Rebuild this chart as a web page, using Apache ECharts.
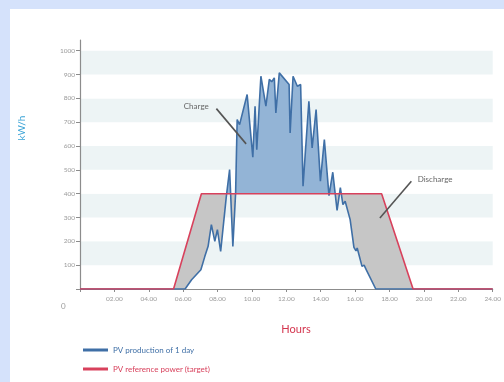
<!DOCTYPE html>
<html>
<head>
<meta charset="utf-8">
<script src="https://cdn.jsdelivr.net/npm/echarts@6/dist/echarts.min.js"></script>
<style>
  html, body { margin: 0; padding: 0; width: 504px; height: 382px; background: #d5e2fb; overflow: hidden; }
  #c { position: absolute; left: 10px; top: 9px; width: 494px; height: 373px; background: #ffffff; }
</style>
</head>
<body>
<div id="c"></div>
<script>
// ---- data (hours of day, kW/h) ----
const pvHours = [0, 6.11, 6.49, 7.03, 7.26, 7.45, 7.64, 7.84, 7.99, 8.18, 8.51, 8.70, 8.89, 9.05, 9.14, 9.28, 9.72,
  10.05, 10.18, 10.28, 10.52, 10.81, 11.01, 11.15, 11.30, 11.39, 11.59, 12.16, 12.22, 12.39, 12.64, 12.83, 12.97,
  13.31, 13.50, 13.73, 13.98, 14.21, 14.48, 14.70, 14.95, 15.14, 15.29, 15.42, 15.71, 15.93, 16.05, 16.12,
  16.40, 16.52, 16.65, 17.20, 24];
const pvValues = [0, 0, 39, 81, 137, 179, 270, 200, 249, 158, 389, 501, 179, 403, 711, 690, 816,
  553, 767, 585, 893, 767, 880, 870, 886, 739, 907, 858, 655, 893, 851, 858, 431,
  788, 592, 753, 452, 627, 392, 490, 330, 425, 354, 368, 291, 175, 160, 172,
  95, 100, 80, 0, 0];
const refHours = [0, 5.44, 7.06, 17.54, 19.37, 24];
const refValues = [0, 0, 400, 400, 0, 0];
const xTickValues = [2, 4, 6, 8, 10, 12, 14, 16, 18, 20, 22, 24];
const xTickLabels = ['02.00', '04.00', '06.00', '08.00', '10.00', '12.00', '14.00', '16.00', '18.00', '20.00', '22.00', '24.00'];
const yTickLabels = [100, 200, 300, 400, 500, 600, 700, 800, 900, 1000];
const seriesNames = ['PV production of 1 day', 'PV reference power (target)'];
const notes = [
  { text: 'Charge', at: [6.76, 766], from: [7.93, 757], to: [9.66, 609] },
  { text: 'Discharge', at: [20.65, 459], from: [19.27, 452], to: [17.44, 298] }
];

// ---- helpers for the fills between the two lines ----
function lerp(xs, ys, x) {
  for (let i = 0; i < xs.length - 1; i++) {
    if (x >= xs[i] && x <= xs[i + 1]) {
      const t = xs[i + 1] === xs[i] ? 0 : (x - xs[i]) / (xs[i + 1] - xs[i]);
      return ys[i] + t * (ys[i + 1] - ys[i]);
    }
  }
  return ys[ys.length - 1];
}
let grid = Array.from(new Set(pvHours.concat(refHours))).sort((a, b) => a - b);
const withCross = [];
for (let i = 0; i < grid.length; i++) {
  withCross.push(grid[i]);
  if (i < grid.length - 1) {
    const x0 = grid[i], x1 = grid[i + 1];
    const d0 = lerp(pvHours, pvValues, x0) - lerp(refHours, refValues, x0);
    const d1 = lerp(pvHours, pvValues, x1) - lerp(refHours, refValues, x1);
    if (d0 * d1 < 0) withCross.push(x0 + (x1 - x0) * d0 / (d0 - d1));
  }
}
grid = withCross;
const bArr = grid.map(x => lerp(pvHours, pvValues, x));
const rArr = grid.map(x => lerp(refHours, refValues, x));
// gray: between PV (below) and reference (above); blue: between reference (below) and PV (above)
const grayTop = grid.map((x, i) => [x, rArr[i]]);
const grayBottom = grid.map((x, i) => [x, Math.min(bArr[i], rArr[i])]);
const blueTop = grid.map((x, i) => [x, Math.max(bArr[i], rArr[i])]);
const blueBottom = grid.map((x, i) => [x, rArr[i]]);

const FONT = 'Lato';
const BLUE = '#3f6fa6';
const RED = '#d8415c';

const chart = echarts.init(document.getElementById('c'), null, { renderer: 'canvas' });

function polygon(api, top, bottom, color) {
  const pts = top.map(p => api.coord(p)).concat(bottom.slice().reverse().map(p => api.coord(p)));
  return { type: 'polygon', shape: { points: pts }, style: { fill: color, stroke: null } };
}

chart.setOption({
  animation: false,
  textStyle: { fontFamily: FONT },
  grid: { left: 70, right: 7, top: 31, bottom: 93, containLabel: false },
  xAxis: {
    type: 'value', min: 0, max: 24, interval: 2,
    axisLine: { lineStyle: { color: '#8c8c8c', width: 1.2 } },
    axisTick: { show: true, length: 3, lineStyle: { color: '#8c8c8c' } },
    axisLabel: {
      color: '#9a9a9a', fontSize: 6.5, margin: 6,
      formatter: v => { const i = xTickValues.indexOf(v); return i >= 0 ? xTickLabels[i] : ''; }
    },
    splitLine: { show: false }
  },
  yAxis: {
    type: 'value', min: 0, max: 1045, interval: 100,
    axisLine: { show: true, lineStyle: { color: '#8c8c8c', width: 1.2 } },
    axisTick: { show: true, length: 4, lineStyle: { color: '#8c8c8c' }, customValues: [0].concat(yTickLabels) },
    axisLabel: { color: '#9a9a9a', fontSize: 6.5, margin: 5, customValues: yTickLabels, formatter: v => String(v) },
    splitLine: { show: false },
    splitArea: { show: true, areaStyle: { color: ['#ffffff', '#edf4f5'] } }
  },
  legend: {
    orient: 'vertical', left: 73, top: 337, itemWidth: 25, itemHeight: 3, itemGap: 11, itemTextGap: 7,
    padding: 0, icon: 'rect',
    data: [
      { name: seriesNames[0], itemStyle: { color: BLUE }, textStyle: { color: BLUE } },
      { name: seriesNames[1], itemStyle: { color: RED }, textStyle: { color: RED } }
    ],
    textStyle: { fontSize: 8, fontFamily: FONT },
    selectedMode: false
  },
  graphic: [
    { type: 'text', left: 51, top: 293, style: { text: '0', fill: '#9a9a9a', font: '8px ' + FONT } },
    { type: 'text', x: 12, y: 119, rotation: Math.PI / 2,
      style: { text: 'kW/h', fill: '#3aa3d6', font: '10px ' + FONT, align: 'center', verticalAlign: 'middle' } },
    { type: 'text', x: 286, y: 320,
      style: { text: 'Hours', fill: '#d4364f', font: '11px ' + FONT, align: 'center', verticalAlign: 'middle' } }
  ],
  series: [
    {
      type: 'custom', silent: true, z: 1, data: [[0, 0]],
      renderItem: (params, api) => ({
        type: 'group',
        children: [
          polygon(api, grayTop, grayBottom, '#c6c6c6'),
          polygon(api, blueTop, blueBottom, '#93b4d6')
        ]
      })
    },
    {
      name: seriesNames[0], type: 'line', z: 3, symbol: 'none',
      data: pvHours.map((h, i) => [h, pvValues[i]]),
      lineStyle: { color: BLUE, width: 1.6 }, itemStyle: { color: BLUE },
      markLine: {
        silent: true, symbol: 'none', animation: false,
        lineStyle: { color: '#555555', width: 1.6, type: 'solid' },
        label: { show: false },
        data: notes.map(n => [{ coord: n.from }, { coord: n.to }])
      },
      markPoint: {
        silent: true, animation: false,
        data: notes.map(n => ({
          coord: n.at, symbol: 'circle', symbolSize: 0,
          label: { show: true, position: 'inside', formatter: n.text, color: '#666666', fontSize: 8, fontFamily: FONT }
        }))
      }
    },
    {
      name: seriesNames[1], type: 'line', z: 4, symbol: 'none',
      data: refHours.map((h, i) => [h, refValues[i]]),
      lineStyle: { color: RED, width: 1.6 }, itemStyle: { color: RED }
    }
  ]
});
</script>
</body>
</html>
